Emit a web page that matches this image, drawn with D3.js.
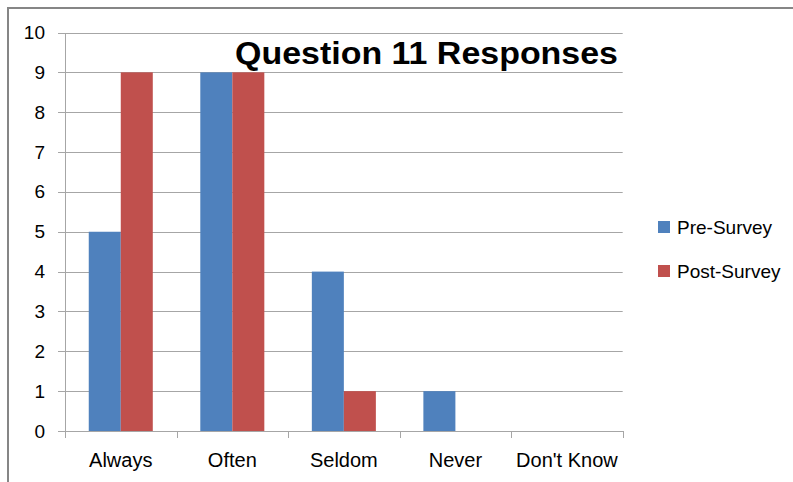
<!DOCTYPE html>
<html>
<head>
<meta charset="utf-8">
<script src="https://d3js.org/d3.v7.min.js"></script>
<style>
	html, body {margin: 0; background: #fff; overflow: hidden}
	text {font-family: "Liberation Sans", Arial, sans-serif; fill: #000;}
	.grid line {stroke: #a6a6a6; stroke-width: 1px;}
	.axis path, .axis line {stroke: #a6a6a6; shape-rendering: crispEdges;}
	.axis text {font-size: 19px;}
</style>
</head>
<body>
<script>
	var categories = ["Always", "Often", "Seldom", "Never", "Don't Know"];
	var series = ["Pre-Survey", "Post-Survey"];
	var preSurvey = [5, 9, 4, 1, 0];
	var postSurvey = [9, 9, 1, 0, 0];
	var yTicks = [0, 1, 2, 3, 4, 5, 6, 7, 8, 9, 10];
	var colors = ["#4f81bd", "#c0504d"];

	var width = 793, height = 482;
	var plot = {left: 65, right: 622.7, top: 32.5, bottom: 431};

	var svg = d3.select("body").append("svg")
		.attr("width", width)
		.attr("height", height);

	// outer chart frame
	svg.append("path")
		.attr("d", "M8," + height + "V8H" + width)
		.attr("fill", "none")
		.attr("stroke", "#868686")
		.attr("stroke-width", 2);

	var x0 = d3.scaleBand()
		.domain(categories)
		.range([plot.left, plot.right])
		.padding(0);

	var x1 = d3.scaleBand()
		.domain(series)
		.range([0, x0.bandwidth()])
		.paddingInner(0)
		.paddingOuter(0.742);

	var y = d3.scaleLinear()
		.domain([0, 10])
		.range([plot.bottom, plot.top]);

	// gridlines
	svg.append("g")
		.attr("class", "grid")
		.selectAll("line")
		.data(yTicks.slice(1))
		.enter().append("line")
		.attr("x1", plot.left)
		.attr("x2", plot.right)
		.attr("y1", function(d){ return Math.round(y(d)) + 0.5; })
		.attr("y2", function(d){ return Math.round(y(d)) + 0.5; });

	// bars
	var rows = categories.map(function(c, i){
		return {cat: c, values: [preSurvey[i], postSurvey[i]]};
	});

	svg.append("g")
		.selectAll("g")
		.data(rows)
		.enter().append("g")
		.attr("transform", function(d){ return "translate(" + x0(d.cat) + ",0)"; })
		.selectAll("rect")
		.data(function(d){
			return d.values.map(function(v, j){ return {s: series[j], v: v, c: colors[j]}; });
		})
		.enter().append("rect")
		.attr("x", function(d){ return x1(d.s); })
		.attr("width", x1.bandwidth())
		.attr("y", function(d){ return y(d.v); })
		.attr("height", function(d){ return y(0) - y(d.v); })
		.attr("fill", function(d){ return d.c; });

	// y axis
	var yAxis = svg.append("g")
		.attr("class", "axis")
		.attr("transform", "translate(" + plot.left + ",0)")
		.call(d3.axisLeft(y).tickValues(yTicks).tickSize(7).tickPadding(13).tickFormat(d3.format("d")));
	yAxis.select(".domain").attr("d", "M0.5," + plot.top + "V" + plot.bottom);

	// x axis
	var xTickPos = d3.range(categories.length + 1);
	var xAxis = svg.append("g").attr("class", "axis");
	xAxis.append("line")
		.attr("x1", plot.left).attr("x2", plot.right)
		.attr("y1", Math.round(plot.bottom) + 0.5).attr("y2", Math.round(plot.bottom) + 0.5);
	xAxis.selectAll(".xt")
		.data(xTickPos)
		.enter().append("line")
		.attr("class", "xt")
		.attr("x1", function(i){ return Math.round(plot.left + i * x0.step()) + 0.5; })
		.attr("x2", function(i){ return Math.round(plot.left + i * x0.step()) + 0.5; })
		.attr("y1", plot.bottom)
		.attr("y2", plot.bottom + 7);
	xAxis.selectAll(".xl")
		.data(categories)
		.enter().append("text")
		.attr("class", "xl")
		.attr("x", function(d){ return x0(d) + x0.bandwidth() / 2; })
		.attr("y", 467)
		.attr("text-anchor", "middle")
		.style("font-size", "20px")
		.text(function(d){ return d; });

	// title
	svg.append("text")
		.attr("x", 618)
		.attr("y", 64)
		.attr("text-anchor", "end")
		.style("font-size", "31px")
		.style("font-weight", "bold")
		.attr("textLength", 383)
		.attr("lengthAdjust", "spacingAndGlyphs")
		.text("Question 11 Responses");

	// legend
	var legend = svg.append("g")
		.selectAll("g")
		.data(series)
		.enter().append("g")
		.attr("transform", function(d, i){ return "translate(658," + (221 + i * 44) + ")"; });
	legend.append("rect")
		.attr("width", 12)
		.attr("height", 12)
		.attr("fill", function(d, i){ return colors[i]; });
	legend.append("text")
		.attr("x", 19)
		.attr("y", 12.5)
		.style("font-size", "19px")
		.text(function(d){ return d; });
</script>
</body>
</html>
